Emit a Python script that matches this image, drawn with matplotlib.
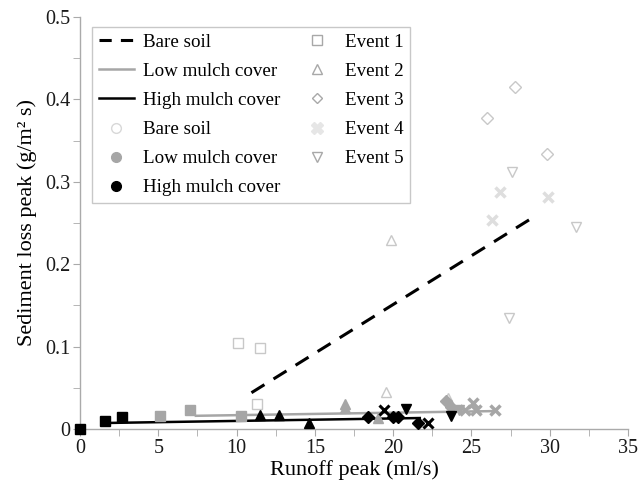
import matplotlib
matplotlib.use("Agg")
import matplotlib.pyplot as plt
from matplotlib.lines import Line2D
from matplotlib.ticker import MultipleLocator

plt.rcParams['font.family'] = ['Liberation Serif', 'DejaVu Serif']

# runoff peak (ml/s), sediment loss peak (g/m2 s) per treatment and event
bare = {
    1: ([10.06, 11.52, 11.33], [0.104, 0.098, 0.030]),
    2: ([19.86, 19.54, 23.5], [0.229, 0.045, 0.038]),
    3: ([27.8, 26.0, 29.8], [0.415, 0.377, 0.334]),
    4: ([26.8, 26.3, 29.9], [0.288, 0.254, 0.282]),
    5: ([27.6, 31.7, 27.4], [0.312, 0.245, 0.135]),
}
low = {
    1: ([5.09, 7.0, 10.3], [0.016, 0.023, 0.016]),
    2: ([16.9, 16.9, 19.0], [0.030, 0.025, 0.013]),
    3: ([23.4, 23.7], [0.034, 0.027]),
    4: ([24.6, 25.1, 25.3, 26.5], [0.023, 0.031, 0.023, 0.023]),
    5: ([24.2], [0.023]),
}
high = {
    1: ([0.0, 1.6, 2.7], [0.0, 0.010, 0.015]),
    2: ([11.5, 12.7, 14.6], [0.017, 0.017, 0.007]),
    3: ([18.4, 20.0, 20.3, 21.6], [0.015, 0.015, 0.015, 0.007]),
    4: ([19.4, 22.2], [0.023, 0.007]),
    5: ([20.8, 23.7], [0.024, 0.016]),
}

# trend lines: x range, slope, intercept
bare_fit = ([10.95, 28.96], 0.01183, -0.0855)
low_fit = ([7.4, 26.5], 0.0003, 0.0138)
high_fit = ([2.0, 21.7], 0.0003, 0.0068)

event_labels = ['Event 1', 'Event 2', 'Event 3', 'Event 4', 'Event 5']
markers = {1: 's', 2: '^', 3: 'D', 4: 'x', 5: 'v'}
msize = {1: 7.5, 2: 7, 3: 6, 4: 7, 5: 7}

fig = plt.figure(figsize=(6.38, 4.88), dpi=100)
ax = fig.add_axes([0.1254, 0.1209, 0.859, 0.8443])

bare_col = '#c8c8c8'
low_col = '#a6a6a6'
for ev, (xs, ys) in bare.items():
    if ev == 4:
        ax.plot(xs, ys, linestyle='none', marker='x', ms=7, mew=2.5, color='#dedede', zorder=3)
    else:
        ax.plot(xs, ys, linestyle='none', marker=markers[ev], ms=msize[ev],
                mfc='white', mec=bare_col, mew=1, zorder=3)
for ev, (xs, ys) in low.items():
    if ev == 4:
        ax.plot(xs, ys, linestyle='none', marker='x', ms=7, mew=2.5, color=low_col, zorder=3)
    else:
        ax.plot(xs, ys, linestyle='none', marker=markers[ev], ms=msize[ev],
                mfc=low_col, mec=low_col, zorder=3)
for ev, (xs, ys) in high.items():
    if ev == 4:
        ax.plot(xs, ys, linestyle='none', marker='x', ms=7, mew=2.2, color='black', zorder=4)
    else:
        ax.plot(xs, ys, linestyle='none', marker=markers[ev], ms=msize[ev],
                mfc='black', mec='black', zorder=4, clip_on=False)

for (xr, a, b), style, col, lw in [(bare_fit, (0, (5, 3.5)), 'black', 2.2),
                                   (low_fit, '-', low_col, 1.8),
                                   (high_fit, '-', 'black', 1.8)]:
    ax.plot(xr, [a * x + b for x in xr], linestyle=style, color=col, lw=lw, zorder=2)

ax.set_xlim(0, 35)
ax.set_ylim(0, 0.5)
ax.xaxis.set_minor_locator(MultipleLocator(2.5))
ax.yaxis.set_minor_locator(MultipleLocator(0.05))
ax.set_yticks([0, 0.1, 0.2, 0.3, 0.4, 0.5])
ax.set_yticklabels(['0', '0.1', '0.2', '0.3', '0.4', '0.5'])
ax.set_xticks(range(0, 36, 5))
for side in ['top', 'right']:
    ax.spines[side].set_visible(False)
for side in ['left', 'bottom']:
    ax.spines[side].set_color('#aaaaaa')
    ax.spines[side].set_linewidth(1)
ax.tick_params(which='both', direction='out', color='#aaaaaa', labelsize=14.5, length=5, pad=2)
for lab in ax.get_xticklabels() + ax.get_yticklabels():
    lab.set_color('#1a1a1a')
ax.set_xlabel('Runoff peak (ml/s)', fontsize=16, labelpad=2)
ax.set_ylabel('Sediment loss peak (g/m\u00b2 s)', fontsize=16, labelpad=6)

handles = [
    Line2D([], [], color='black', ls=(0, (4, 3)), lw=2.2),
    Line2D([], [], color=low_col, lw=1.8),
    Line2D([], [], color='black', lw=1.8),
    Line2D([], [], ls='none', marker='o', ms=7, mfc='white', mec='#d8d8d8'),
    Line2D([], [], ls='none', marker='o', ms=7, mfc=low_col, mec=low_col),
    Line2D([], [], ls='none', marker='o', ms=7, mfc='black', mec='black'),
    Line2D([], [], ls='none', marker='s', ms=7, mfc='white', mec='#a8a8a8'),
    Line2D([], [], ls='none', marker='^', ms=7, mfc='white', mec='#a8a8a8'),
    Line2D([], [], ls='none', marker='D', ms=5.5, mfc='white', mec='#a8a8a8'),
    Line2D([], [], ls='none', marker='X', ms=8, mfc='#e6e6e6', mec='#e6e6e6'),
    Line2D([], [], ls='none', marker='v', ms=7, mfc='white', mec='#a8a8a8'),
]
labels = ['Bare soil', 'Low mulch cover', 'High mulch cover',
          'Bare soil', 'Low mulch cover', 'High mulch cover'] + event_labels
leg = ax.legend(handles, labels, ncol=2, loc='upper left', bbox_to_anchor=(0.022, 0.976),
                borderaxespad=0, fontsize=13.7, frameon=True, fancybox=False,
                edgecolor='#bbbbbb', handlelength=1.85, handletextpad=0.5,
                columnspacing=1.0, labelspacing=0.62, borderpad=0.35)
leg.get_frame().set_linewidth(1)

fig.savefig('out.png', dpi=100)
